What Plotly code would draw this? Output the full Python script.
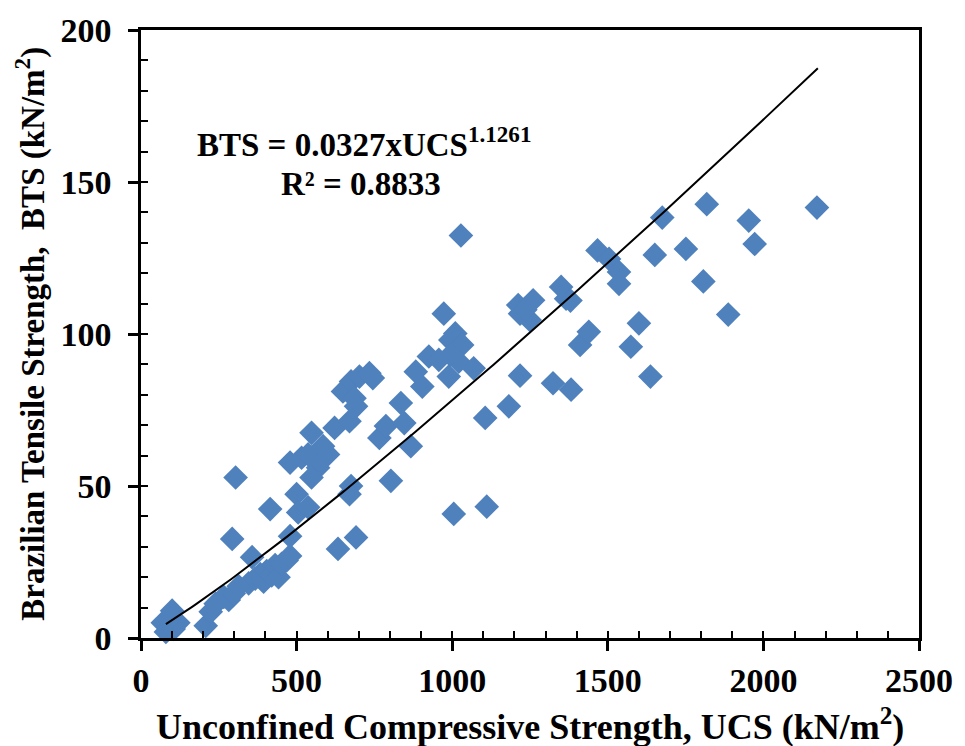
import numpy as np
import plotly.graph_objects as go

# --- data ---
ucs = [70, 80, 100, 105, 120, 90,
       208, 224, 240, 266, 282, 298, 314, 346, 367, 383, 394, 404, 420, 431, 442, 452, 468, 479,
       293, 304, 415, 357, 479,
       500, 505, 537,
       479, 516, 537, 548, 569, 548, 601, 585,
       622, 649, 675, 702, 734, 745, 686, 691, 670,
       766, 787, 835, 846, 867, 803, 675, 670, 633, 691,
       883, 904, 925, 957, 989, 994,
       973, 1010, 1032, 994, 1021, 1069, 1005, 1111, 1028,
       1106, 1182, 1218, 1324, 1382, 1637,
       1212, 1260, 1218, 1249, 1235,
       1350, 1366, 1380,
       1411, 1439, 1574, 1600,
       1467, 1504, 1536, 1536, 1651, 1675, 1751, 1807, 1818, 1887, 1953, 1972, 2172]
bts = [5, 2, 9, 3, 5, 6,
       4, 8.6, 11.3, 13.5, 12.5, 14.6, 17, 18, 19.5, 21, 18.5, 22, 20.6, 24, 20, 24.4, 25.5, 27,
       32.6, 52.8, 42.4, 26.6, 33.5,
       47.3, 41.3, 43,
       57.7, 59.3, 60.4, 67.5, 56, 52.8, 60.4, 63.1,
       69.1, 81.1, 84.4, 86, 87.1, 85.5, 78.9, 76.2, 71.3,
       65.8, 69.7, 77.3, 70.7, 63.1, 51.7, 50, 47.3, 29.3, 33.1,
       87.6, 82.7, 92.6, 91.5, 86, 98,
       106.7, 100.2, 96.4, 93.1, 90.9, 88.7, 40.8, 43.2, 132.4,
       72.4, 76.2, 86.3, 83.8, 81.7, 86,
       109.5, 111.1, 106.7, 104.6, 108,
       115.5, 111.6, 111,
       96.4, 100.7, 95.8, 103.5,
       127.5, 124.7, 120.4, 116.5, 126, 138.3, 128, 117.3, 142.7, 106.4, 137.3, 129.6, 141.6]

# power trendline shown in chart: BTS = a * UCS^b
fit_a = 0.0327
fit_b = 1.1261
fit_range = [80, 2175]

x_ticks = [0, 500, 1000, 1500, 2000, 2500]
y_ticks = [0, 50, 100, 150, 200]

line_x = np.linspace(fit_range[0], fit_range[1], 200)
line_y = fit_a * line_x ** fit_b

FONT = "Liberation Serif"
fig = go.Figure()
fig.add_trace(go.Scatter(x=ucs, y=bts, mode="markers",
                         marker=dict(symbol="diamond", size=19, color="rgb(79,129,189)",
                                     line=dict(width=0)),
                         cliponaxis=False, showlegend=False))
fig.add_trace(go.Scatter(x=line_x, y=line_y, mode="lines",
                         line=dict(color="black", width=2), showlegend=False))
# invisible trace on overlay axes (inside ticks)
fig.add_trace(go.Scatter(x=[0], y=[0], xaxis="x2", yaxis="y2", mode="markers",
                         marker=dict(opacity=0), showlegend=False, hoverinfo="skip"))

tickfont = dict(family=FONT, size=34, color="black", weight="bold")
fig.update_layout(
    width=965, height=746,
    margin=dict(l=141, r=40, t=27, b=108),
    paper_bgcolor="white", plot_bgcolor="white",
    xaxis=dict(range=[0, 2500], tickvals=x_ticks, ticks="outside", ticklen=10, tickwidth=2.5,
               tickcolor="black", showline=True, linecolor="black", linewidth=2.5, mirror=True,
               showgrid=False, zeroline=False, tickfont=tickfont, ticklabelstandoff=0),
    yaxis=dict(range=[0, 200], tickvals=y_ticks, ticks="outside", ticklen=10, tickwidth=2.5,
               tickcolor="black", showline=True, linecolor="black", linewidth=2.5, mirror=True,
               showgrid=False, zeroline=False, tickfont=tickfont, ticklabelstandoff=10),
    xaxis2=dict(range=[0, 2500], overlaying="x", dtick=100, tick0=0, ticks="inside", ticklen=7,
                tickwidth=2, tickcolor="black", showticklabels=False, showgrid=False,
                zeroline=False, showline=False, side="bottom"),
    yaxis2=dict(range=[0, 200], overlaying="y", dtick=10, tick0=0, ticks="inside", ticklen=7,
                tickwidth=2, tickcolor="black", showticklabels=False, showgrid=False,
                zeroline=False, showline=False, side="left"),
    annotations=[
        dict(text="<b>Unconfined Compressive Strength, UCS (kN/m<sup>2</sup>)</b>",
             xref="paper", yref="paper", x=0.5, y=-0.143, showarrow=False,
             font=dict(family=FONT, size=36, color="black"), xanchor="center", yanchor="middle"),
        dict(text="<b>Brazilian Tensile Strength,  BTS (kN/m<sup>2</sup>)</b>",
             xref="paper", yref="paper", x=-0.143, y=0.5, showarrow=False, textangle=-90,
             font=dict(family=FONT, size=33, color="black"), xanchor="center", yanchor="middle"),
        dict(text="<b>BTS = 0.0327xUCS<sup>1.1261</sup></b>",
             xref="paper", yref="paper", x=(366 - 141) / 784, y=(638 - 140) / 611,
             showarrow=False, font=dict(family=FONT, size=33, color="black"),
             xanchor="center", yanchor="middle"),
        dict(text="<b>R² = 0.8833</b>",
             xref="paper", yref="paper", x=(363 - 141) / 784, y=(638 - 182) / 611,
             showarrow=False, font=dict(family=FONT, size=33, color="black"),
             xanchor="center", yanchor="middle"),
    ],
)
fig.write_html("out.html")
